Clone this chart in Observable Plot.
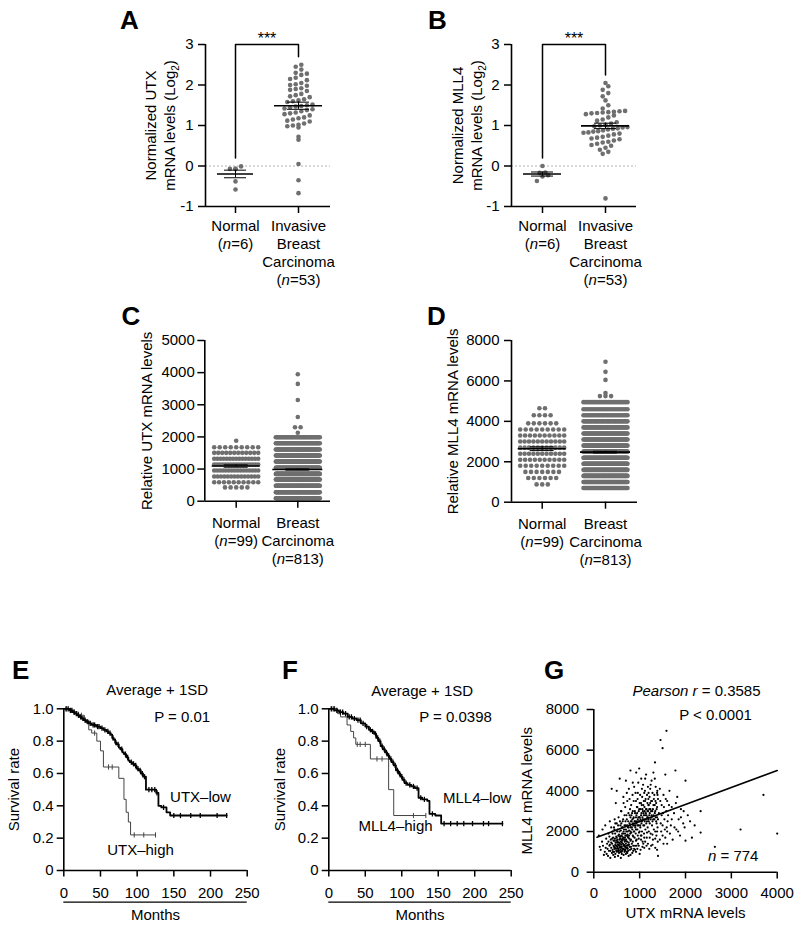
<!DOCTYPE html>
<html><head><meta charset="utf-8">
<script src="https://cdn.jsdelivr.net/npm/d3@7"></script>
<script src="https://cdn.jsdelivr.net/npm/@observablehq/plot@0.6"></script>
<style>
body{margin:0;background:#fff;}
#fig{position:relative;width:800px;height:927px;background:#fff;overflow:hidden;font-family:"Liberation Sans",Arial,Helvetica,sans-serif;}
#fig svg{position:absolute;}
.letter{position:absolute;font-weight:bold;font-size:26px;line-height:1;color:#000;}
</style></head>
<body><div id="fig"></div>
<script>
// ---------------- DATA ----------------
// Panel A: normalized UTX (log2)
const catA = ["Normal\n(n=6)", "Invasive\nBreast\nCarcinoma\n(n=53)"];
const utxNormal = [-0.08, -0.07, -0.06, -0.01, -0.38, -0.58];
const utxInvasive = [2.5, 2.45, 2.38, 2.3, 2.28, 2.25, 2.18, 2.15, 2.12, 2.05, 2.02, 2.0, 1.98, 1.92, 1.9, 1.88, 1.85, 1.78, 1.75, 1.72, 1.7, 1.65, 1.62, 1.6, 1.58, 1.52, 1.5, 1.48, 1.47, 1.45, 1.42, 1.4, 1.38, 1.35, 1.32, 1.3, 1.28, 1.25, 1.2, 1.18, 1.15, 1.12, 1.1, 1.05, 1.02, 1.0, 0.98, 0.95, 0.72, 0.65, 0.05, -0.35, -0.67];
const bracketA = [0.2, 3, 2.7];
// Panel B: normalized MLL4 (log2)
const catB = ["Normal\n(n=6)", "Invasive\nBreast\nCarcinoma\n(n=53)"];
const mll4Normal = [0.0, -0.16, -0.17, -0.23, -0.26, -0.37];
const mll4Invasive = [2.05, 1.97, 1.88, 1.8, 1.72, 1.62, 1.5, 1.42, 1.36, 1.35, 1.34, 1.33, 1.32, 1.31, 1.3, 1.28, 1.25, 1.2, 1.15, 1.12, 1.08, 1.05, 1.02, 1.0, 0.98, 0.96, 0.95, 0.93, 0.92, 0.9, 0.88, 0.86, 0.85, 0.83, 0.82, 0.8, 0.78, 0.75, 0.72, 0.7, 0.68, 0.66, 0.63, 0.6, 0.58, 0.55, 0.52, 0.5, 0.45, 0.4, 0.35, 0.3, -0.8];
const bracketB = [0.2, 3, 2.25];
const tickLog = [-1, 0, 1, 2, 3];
// Panel C: relative UTX (value levels and number of samples at each level)
const catC = ["Normal\n(n=99)", "Breast\nCarcinoma\n(n=813)"];
const utxNormLevels = [430, 590, 770, 955, 1140, 1320, 1505, 1680, 1880];
const utxNormCounts = [5, 10, 14, 16, 17, 15, 12, 9, 1];
const utxCaLevels = [90, 280, 480, 675, 850, 1040, 1235, 1420, 1610, 1805, 1990, 2130, 2300, 2620, 3150, 3650, 3950];
const utxCaCounts = [57, 75, 85, 88, 95, 95, 88, 80, 60, 45, 38, 1, 2, 1, 1, 1, 1];
const tickC = [0, 1000, 2000, 3000, 4000, 5000];
// Panel D: relative MLL4
const catD = ["Normal\n(n=99)", "Breast\nCarcinoma\n(n=813)"];
const mllNormLevels = [880, 1200, 1500, 1800, 2100, 2400, 2700, 3000, 3300, 3600, 3900, 4300, 4650];
const mllNormCounts = [3, 6, 7, 9, 10, 11, 11, 11, 10, 9, 6, 4, 2];
const mllCaLevels = [700, 1000, 1300, 1600, 1900, 2200, 2500, 2800, 3100, 3400, 3700, 4000, 4300, 4600, 4950, 5250, 5400, 6050, 6450, 6950];
const mllCaCounts = [45, 69, 76, 75, 75, 72, 68, 62, 56, 50, 44, 38, 28, 22, 26, 3, 1, 1, 1, 1];
const tickD = [0, 2000, 4000, 6000, 8000];
// Panel E: Kaplan-Meier UTX
const utxLowT = [0, 8, 12, 15, 18, 21, 24, 27, 30, 34, 38, 44, 50, 54, 58, 61, 64, 66, 68, 70, 72, 75, 77, 80, 82, 85, 88, 90, 93, 96, 99, 102, 105, 108, 112, 126, 129, 133, 140, 145, 222];
const utxLowS = [1.0, 0.99, 0.98, 0.97, 0.96, 0.95, 0.94, 0.93, 0.92, 0.91, 0.90, 0.89, 0.88, 0.87, 0.86, 0.85, 0.84, 0.82, 0.81, 0.79, 0.78, 0.76, 0.75, 0.73, 0.72, 0.70, 0.68, 0.67, 0.66, 0.65, 0.63, 0.62, 0.60, 0.58, 0.50, 0.48, 0.40, 0.39, 0.36, 0.34, 0.34];
const utxLowCens = [3, 6, 9, 11, 14, 17, 20, 23, 26, 29, 32, 36, 40, 42, 46, 48, 52, 56, 60, 63, 67, 71, 74, 79, 84, 87, 92, 95, 98, 101, 104, 107, 110, 116, 120, 124, 127, 136, 150, 159, 173, 186, 209, 222];
const utxHighT = [0, 10, 20, 28, 34, 38, 45, 50, 54, 75, 82, 85, 88, 91, 125];
const utxHighS = [1.0, 0.98, 0.96, 0.93, 0.87, 0.85, 0.80, 0.74, 0.64, 0.57, 0.44, 0.36, 0.30, 0.22, 0.22];
const utxHighCens = [4, 14, 24, 42, 61, 66, 96, 109, 125];
// Panel F: Kaplan-Meier MLL4
const mllLowT = [0, 8, 14, 20, 26, 32, 38, 44, 50, 55, 59, 62, 65, 68, 71, 74, 77, 80, 83, 86, 89, 92, 95, 98, 101, 104, 108, 113, 118, 123, 128, 135, 138, 146, 154, 238];
const mllLowS = [1.0, 0.99, 0.98, 0.97, 0.95, 0.94, 0.93, 0.91, 0.89, 0.87, 0.86, 0.845, 0.82, 0.80, 0.77, 0.75, 0.73, 0.71, 0.69, 0.67, 0.65, 0.62, 0.60, 0.58, 0.56, 0.54, 0.53, 0.52, 0.51, 0.45, 0.44, 0.43, 0.35, 0.34, 0.29, 0.29];
const mllLowCens = [4, 7, 11, 16, 19, 23, 28, 31, 35, 40, 43, 47, 52, 57, 60, 64, 67, 70, 73, 76, 79, 82, 85, 88, 91, 94, 97, 100, 103, 106, 111, 116, 121, 126, 131, 142, 158, 167, 176, 185, 197, 212, 219, 238];
const mllHighT = [0, 12, 16, 25, 30, 34, 37, 57, 82, 89, 133];
const mllHighS = [1.0, 0.97, 0.95, 0.90, 0.86, 0.82, 0.78, 0.69, 0.50, 0.34, 0.34];
const mllHighCens = [3, 8, 39, 43, 50, 66, 73, 116, 133];
const tickSurv = [0, 0.2, 0.4, 0.6, 0.8, 1.0];
const tickMonths = [0, 50, 100, 150, 200, 250];
// Panel G: UTX vs MLL4 scatter [UTX, MLL4]
const scatterPts = [
[110,1800],[130,1250],[150,1100],[180,1500],[190,2100],[200,1300],[220,850],[240,1000],[250,2300],
[260,1200],[270,1650],[280,900],[290,1400],[300,1150],[310,800],[320,1900],[330,1050],[340,1300],[350,2500],[360,700],[370,1600],[380,1200],[390,4100],[395,950],
[400,1400],[405,2000],[410,1100],[420,1700],[425,850],[430,1300],[440,2200],[445,1000],[450,1550],[455,2600],[460,1200],[465,1900],[470,900],[475,1450],[480,3400],[485,1150],[490,1750],[495,1300],[500,2400],[500,4000],
[505,1000],[510,1250],[515,1600],[520,2100],[525,1350],[530,1150],[535,1800],[540,2700],[545,1050],[550,1450],[555,1300],[560,2000],[565,4600],[570,1200],[575,1650],[580,2300],[585,1100],[590,1500],[595,3000],[600,1350],[600,1800],
[605,1000],[610,1250],[615,2200],[620,1550],[625,1150],[630,2500],[635,1400],[640,1900],[645,3700],[650,1300],[655,1700],[660,2100],[665,1100],[670,2800],[675,1500],[680,1250],[685,3200],[690,1800],[695,2300],[700,1400],[700,4500],[700,900],
[705,1600],[710,2000],[715,1200],[720,2600],[725,1500],[730,3500],[735,1850],[740,1300],[745,2200],[750,1700],[755,2900],[760,1450],[765,4100],[770,2050],[775,1650],[780,2400],[785,1250],[790,3100],[795,1900],[800,2700],[800,850],[800,5000],
[805,2200],[810,1600],[815,3300],[820,1950],[825,2500],[830,1400],[835,2900],[840,2100],[845,3800],[850,1800],[855,2400],[860,1300],[865,2650],[870,3500],[875,2000],[880,4200],[885,2300],[890,1700],[895,3000],[900,2500],[900,1100],
[905,2200],[910,3900],[915,1900],[920,2700],[925,4900],[930,2400],[935,1600],[940,3200],[945,2900],[950,2100],[955,3600],[960,2600],[965,1400],[970,4400],[975,2300],[980,3000],[985,1950],[990,5100],[995,2700],[1000,3400],[1000,2000],[1000,900],
[1005,2500],[1010,3800],[1015,2200],[1020,3100],[1025,1800],[1030,2800],[1035,4600],[1040,2400],[1045,3300],[1050,2000],[1055,3700],[1060,2700],[1065,1500],[1070,3000],[1075,4300],[1080,2300],[1085,2900],[1090,3500],[1095,1900],[1100,2600],[1100,3900],[1100,1200],
[1105,3200],[1110,2500],[1115,4000],[1120,2800],[1125,2100],[1130,3600],[1135,2900],[1140,4800],[1145,2400],[1150,3100],[1155,1700],[1160,3800],[1165,2700],[1170,3400],[1175,2200],[1180,4200],[1185,3000],[1190,2600],[1195,3900],[1200,2000],[1200,3300],
[1210,2800],[1215,3700],[1220,2400],[1230,4100],[1235,3100],[1240,1900],[1250,3500],[1255,2700],[1260,4500],[1270,2300],[1275,3000],[1280,3900],[1290,1600],[1295,2600],[1300,3300],[1300,4900],
[1310,2100],[1320,3800],[1330,2900],[1335,5400],[1340,2000],[1345,3500],[1350,4200],[1360,2500],[1365,1800],[1370,3100],[1380,2700],[1385,4000],[1390,2200],[1395,1500],[1400,3600],[1400,800],
[1420,2900],[1440,4100],[1455,6500],[1460,2400],[1480,3300],[1500,6100],[1500,1800],[1520,3800],[1540,2600],[1560,4800],[1580,3000],[1585,6950],[1590,2200],[1600,3500],[1600,1400],
[1620,2800],[1650,4000],[1680,2300],[1700,3200],[1720,1600],[1750,2900],[1780,5000],[1800,2100],[1820,3700],[1850,2600],[1880,1800],[1900,3100],[1950,2400],[1960,3000],[2000,4500],[2000,1550],
[2050,2800],[2140,1700],[2200,2300],[2330,3000],[2330,1950],[2640,1250],[3200,2100],[3700,3800],[4000,1900],
[520,1200],[540,1100],[560,1300],[580,1000],[600,1200],[620,1050],[640,1150],[660,1350],[680,1050],[700,1200],[720,1000],[740,1150],[550,950],[610,900],[670,1000],[730,950],[490,1050],[630,1650],[690,1550],[750,1350],[810,1250],[850,1500],[880,1150],[930,1300],[960,1800],[1030,1600],[1060,1250],[1120,1500],[1180,1400],[1250,1300],[460,750],[530,800],[590,700],[650,850],[760,800],[840,950],[920,1000],[380,1450],[420,1000],[350,1350],
[320,1500],[340,1750],[360,1050],[380,2200],[400,1650],[410,1900],[430,1550],[440,1250],[450,2100],[460,1650],[470,2400],[480,1300],[490,1550],[500,1700],[510,2000],[520,1500],[530,2300],[540,1350],[550,1850],[560,1600],[570,2500],[580,1750],[590,2050],[600,2400],[610,1600],[620,1900],[630,2200],[640,2600],[650,2000],[660,1600],[670,2300],[680,1900],[690,2500],[700,2100],[710,2800],[720,1800],[730,2300],[740,2000],[750,2500],[760,2200],[770,1800],[780,2800],[790,2300],[800,2000],[810,2500],[820,2800],[830,2200],[840,2600],[850,3000],[860,2300],[870,2700],[880,2000],[890,2500],[900,2900],[910,2300],[920,2100],[930,2800],[940,2500],[950,3200],[960,2300],[970,2700],[980,2500],[990,3100],[1000,2700],[1010,2300],[1020,2600],[1030,3400],[1040,2900],[1050,2500],[1060,3100],[1070,2600],[1080,3300],[1090,2800],[1100,2300],[1110,3000],[1120,3500],[1130,2600],[1140,3100],[1150,2800],[1160,2500],[1170,3000],[1180,2700],[1190,3300],[1200,2500],[1210,3100],[1220,2900],[1230,3400],[1240,2600],[1250,3000],[1260,2800],[1270,3500],[1280,2500],[1290,3100],[1300,2800],[1310,3600],[1320,2600],[1330,3300],[1340,3000],[1350,2700],[1360,3400],[1370,2400],[1380,3200],[1390,3800],[1400,2600],
[450,1150],[470,1350],[510,1450],[530,1050],[570,1400],[590,1250],[610,1450],[650,1150],[670,1300],[690,1100],[710,1300],[730,1200],[750,1050],[770,1350],[790,1100],[820,1150],[860,1050],[900,1300],[950,1150],[980,1300],[1020,1100],[1080,1400],[1150,1300],[1210,1150],[1280,1350],[1340,1200],[1380,1100],[560,1750],[620,1750],[680,1700],[740,1750],[800,1550],[860,1750],[920,1550],[980,1650],[1040,1800],[1100,1700],[1160,1950],[1220,1700],[1280,1850],[1340,1650],[1380,2000],
[600,3000],[650,3400],[720,3900],[780,3600],[850,4400],[920,3500],[960,3900],[1050,4100],[1120,4600],[1190,3600],[1240,4300],[1330,4600],[1380,3900],[1450,3500],[1480,2800],[1510,2900],[1530,3200],[1550,2100],[1570,3600],[1610,2500],[1640,3300],[1660,1900],[1700,2600],[1760,2200],[1790,3400],[1840,2000],[1900,2700],[1980,2200],[2100,2500],[1440,1600],[1470,2000],[1500,2300],[1520,1400],[1560,1700],[1600,2000]
];
const fitUTX = [70, 4000];
const fitMLL4 = [1720, 5000];
const tickGX = [0, 1000, 2000, 3000, 4000];
const tickGY = [0, 2000, 4000, 6000, 8000];

// ---------------- HELPERS ----------------
const FONT = '"Liberation Sans", Arial, Helvetica, sans-serif';
const fig = document.getElementById("fig");
const SVGNS = "http://www.w3.org/2000/svg";
const DOT = "#6f6f6f";

function expand(levels, counts) {
  const out = [];
  levels.forEach((v, i) => { for (let k = 0; k < counts[i]; k++) out.push(v); });
  return out;
}
// Prism-like column scatter: points binned into rows, spread (and compressed) horizontally
function swarm(values, pxPerUnit, rowPx, spacing, maxW) {
  const sorted = [...values].sort((a, b) => a - b);
  const rows = d3.groups(sorted, v => Math.round(v * pxPerUnit / rowPx));
  const out = [];
  for (const [, vs] of rows) {
    const n = vs.length;
    const s = n > 1 ? Math.min(spacing, maxW / (n - 1)) : 0;
    vs.forEach((v, i) => out.push({v, off: (i - (n - 1) / 2) * s}));
  }
  return out;
}
function setRuns(el, runs) {
  el.textContent = "";
  runs.forEach(([s, st]) => {
    const t = document.createElementNS(SVGNS, "tspan");
    if (st === "i") t.setAttribute("font-style", "italic");
    if (st === "sub") { t.setAttribute("font-size", "10"); t.setAttribute("dy", "4"); }
    if (st === "up") { t.setAttribute("dy", "-4"); }
    t.textContent = s;
    el.appendChild(t);
  });
}
function post(svg) {
  svg.querySelectorAll("text, tspan").forEach(el => {
    if (el.querySelector("tspan")) return;
    const t = el.textContent;
    let m;
    if ((m = t.match(/^\(n=(\d+)\)$/))) setRuns(el, [["(", ""], ["n", "i"], ["=" + m[1] + ")", ""]]);
    else if ((m = t.match(/^n = (\d+)$/))) setRuns(el, [["n", "i"], [" = " + m[1], ""]]);
    else if ((m = t.match(/^Pearson r (.*)$/))) setRuns(el, [["Pearson r", "i"], [" " + m[1], ""]]);
    else if ((m = t.match(/^(.*)\(Log2\)$/))) setRuns(el, [[m[1] + "(Log", ""], ["2", "sub"], [")", "up"]]);
  });
}
function mount(svg, left, top) {
  svg.style.left = left + "px";
  svg.style.top = top + "px";
  post(svg);
  fig.appendChild(svg);
}
function letter(ch, left, top) {
  const d = document.createElement("div");
  d.className = "letter"; d.textContent = ch;
  d.style.left = left + "px"; d.style.top = top + "px";
  fig.appendChild(d);
}
const baseStyle = {fontFamily: FONT, fontSize: "15px", background: "transparent", overflow: "visible", color: "#000"};
const C = {textAnchor: "middle", lineAnchor: "middle", fontSize: 15};

// Column scatter panel (A-D)
function columnPanel(c) {
  const innerW = c.w - c.ml - c.mr, innerH = c.h - c.mt - c.mb;
  const x0 = -c.firstPx / c.stepPx, x1 = x0 + innerW / c.stepPx;
  const pxY = innerH / (c.ydom[1] - c.ydom[0]);
  const pts = [];
  c.groups.forEach((vals, gi) => swarm(vals, pxY, c.rowPx, c.spacing, c.maxW)
    .forEach(p => pts.push({x: gi + p.off / c.stepPx, y: p.v})));
  const stats = c.groups.map((vals, gi) => {
    const m = d3.mean(vals), se = d3.deviation(vals) / Math.sqrt(vals.length);
    return {gi, m, lo: m - se, hi: m + se, half: c.meanHalf[gi] / c.stepPx, cap: c.capHalf[gi] / c.stepPx};
  });
  const marks = [];
  if (c.ydom[0] < 0) marks.push(Plot.ruleY([0], {stroke: "#b5b5b5", strokeWidth: 1, strokeDasharray: "2,2"}));
  marks.push(
    Plot.dot(pts, {x: "x", y: "y", r: 2.3, fill: DOT, stroke: "none"}),
    Plot.ruleX(stats, {x: "gi", y1: "lo", y2: "hi", stroke: "#000", strokeWidth: 1}),
    Plot.ruleY(stats, {y: "lo", x1: d => d.gi - d.cap, x2: d => d.gi + d.cap, stroke: "#000", strokeWidth: 1}),
    Plot.ruleY(stats, {y: "hi", x1: d => d.gi - d.cap, x2: d => d.gi + d.cap, stroke: "#000", strokeWidth: 1}),
    Plot.ruleY(stats, {y: "m", x1: d => d.gi - d.half, x2: d => d.gi + d.half, stroke: "#000", strokeWidth: 1.6}),
    Plot.ruleX([x0], {stroke: "#000", strokeWidth: 1.6}),
    Plot.ruleY([c.ydom[0]], {stroke: "#000", strokeWidth: 1.6}),
    Plot.axisY({ticks: c.yticks, tickSize: 7, tickPadding: c.yPad, fontSize: 15, label: null, strokeWidth: 1.5, tickFormat: d => String(d)}),
    Plot.axisX({ticks: [0, 1], tickSize: 7, tickPadding: c.xPad, fontSize: 15, lineHeight: 1.2, label: null, strokeWidth: 1.5, tickFormat: i => c.cats[i]}),
    Plot.text([c.ylabel], {...C, frameAnchor: "left", rotate: -90, dx: c.ylabelDx, lineHeight: 1.25})
  );
  if (c.bracket) {
    const b = c.bracket;
    marks.push(
      Plot.line([{x: 0, y: b[0]}, {x: 0, y: b[1]}, {x: 1, y: b[1]}, {x: 1, y: b[2]}], {x: "x", y: "y", stroke: "#000", strokeWidth: 1.5}),
      Plot.text(["***"], {x: [0.5], y: [b[1]], dy: -6, fontSize: 16})
    );
  }
  const svg = Plot.plot({width: c.w, height: c.h, marginLeft: c.ml, marginRight: c.mr, marginTop: c.mt, marginBottom: c.mb,
    x: {domain: [x0, x1]}, y: {domain: c.ydom}, style: baseStyle, marks});
  mount(svg, c.left, c.top);
}

const tickSym = {draw(ctx, size) { const r = Math.sqrt(size / Math.PI); ctx.moveTo(0, -r); ctx.lineTo(0, r); }};
function survAt(T, S, t) { const i = d3.bisectRight(T, t) - 1; return S[Math.max(0, i)]; }

function kmPanel(c) {
  const marks = [];
  c.curves.forEach(cv => {
    const pts = cv.T.map((t, i) => ({t, s: cv.S[i]}));
    const cens = cv.C.map(t => ({t, s: survAt(cv.T, cv.S, t)}));
    marks.push(
      Plot.line(pts, {x: "t", y: "s", curve: "step-after", stroke: cv.stroke, strokeWidth: cv.sw}),
      Plot.dot(cens, {x: "t", y: "s", symbol: tickSym, r: 2.6, stroke: cv.stroke, strokeWidth: cv.tw, fill: "none"})
    );
  });
  marks.push(
    Plot.ruleX([0], {stroke: "#000", strokeWidth: 1.6}),
    Plot.ruleY([0], {stroke: "#000", strokeWidth: 1.6}),
    Plot.axisY({ticks: tickSurv, tickSize: 6.6, tickPadding: 3.5, fontSize: 15, label: null, strokeWidth: 1.5, tickFormat: d => d === 0 ? "0" : d.toFixed(1)}),
    Plot.axisX({ticks: tickMonths, tickSize: 6.6, tickPadding: 10, fontSize: 15, label: null, strokeWidth: 1.5, tickFormat: d => String(d)}),
    Plot.ruleY([0], {dy: 31.7, stroke: "#000", strokeWidth: 1.3}),
    Plot.text(["Months"], {...C, frameAnchor: "bottom", dy: 45}),
    Plot.text(["Survival rate"], {...C, frameAnchor: "left", rotate: -90, dx: c.ylabelDx}),
    ...c.notes.map(n => Plot.text([n[0]], {...C, frameAnchor: "top-left", dx: n[1], dy: n[2]}))
  );
  const svg = Plot.plot({width: c.w, height: c.h, marginLeft: c.ml, marginRight: c.mr, marginTop: c.mt, marginBottom: c.mb,
    x: {domain: [0, 250]}, y: {domain: [0, 1]}, style: baseStyle, marks});
  mount(svg, c.left, c.top);
}

// ---------------- PANELS ----------------
columnPanel({left: 90, top: 0, w: 260, h: 300, ml: 115, mr: 20, mt: 44, mb: 94,
  firstPx: 30, stepPx: 63, ydom: [-1, 3], yticks: tickLog, cats: catA,
  groups: [utxNormal, utxInvasive], rowPx: 6, spacing: 5.6, maxW: 44,
  meanHalf: [18, 24], capHalf: [11, 11], yPad: 5, xPad: 5,
  ylabel: "Normalized UTX\nmRNA levels (Log2)", ylabelDx: -46, bracket: bracketA});
columnPanel({left: 395, top: 0, w: 260, h: 300, ml: 116, mr: 19, mt: 44, mb: 94,
  firstPx: 31, stepPx: 63, ydom: [-1, 3], yticks: tickLog, cats: catB,
  groups: [mll4Normal, mll4Invasive], rowPx: 6, spacing: 5.6, maxW: 44,
  meanHalf: [19, 24], capHalf: [11, 11], yPad: 5, xPad: 5,
  ylabel: "Normalized MLL4\nmRNA levels (Log2)", ylabelDx: -45, bracket: bracketB});
columnPanel({left: 90, top: 300, w: 260, h: 290, ml: 114.3, mr: 20, mt: 40, mb: 89.3,
  firstPx: 31.4, stepPx: 61.6, ydom: [0, 5000], yticks: tickC, cats: catC,
  groups: [expand(utxNormLevels, utxNormCounts), expand(utxCaLevels, utxCaCounts)], rowPx: 3, spacing: 5.6, maxW: 44,
  meanHalf: [24, 25], capHalf: [12, 12], yPad: 3, xPad: 7,
  ylabel: "Relative UTX mRNA levels", ylabelDx: -59.3});
columnPanel({left: 395, top: 300, w: 260, h: 290, ml: 116, mr: 18, mt: 40, mb: 88.3,
  firstPx: 30.7, stepPx: 63.3, ydom: [0, 8000], yticks: tickD, cats: catD,
  groups: [expand(mllNormLevels, mllNormCounts), expand(mllCaLevels, mllCaCounts)], rowPx: 3, spacing: 5.6, maxW: 44,
  meanHalf: [24, 25], capHalf: [12, 12], yPad: 5, xPad: 7,
  ylabel: "Relative MLL4 mRNA levels", ylabelDx: -59.3});

kmPanel({left: 0, top: 600, w: 265, h: 327, ml: 63.3, mr: 18.3, mt: 108.3, mb: 57, ylabelDx: -50,
  curves: [
    {T: utxHighT, S: utxHighS, C: utxHighCens, stroke: "#444", sw: 1, tw: 1},
    {T: utxLowT, S: utxLowS, C: utxLowCens, stroke: "#000", sw: 1.8, tw: 1.3}
  ],
  notes: [["Average + 1SD", 93.4, -18.3], ["P = 0.01", 118.4, 8.4], ["UTX\u2013low", 136.7, 88.4], ["UTX\u2013high", 76.7, 141.7]]});
kmPanel({left: 265, top: 600, w: 265, h: 327, ml: 63.3, mr: 19.3, mt: 108.3, mb: 57, ylabelDx: -48.3,
  curves: [
    {T: mllHighT, S: mllHighS, C: mllHighCens, stroke: "#444", sw: 1, tw: 1},
    {T: mllLowT, S: mllLowS, C: mllLowCens, stroke: "#000", sw: 1.8, tw: 1.3}
  ],
  notes: [["Average + 1SD", 93.4, -17.6], ["P = 0.0398", 126.7, 8.4], ["MLL4\u2013low", 148.4, 89.7], ["MLL4\u2013high", 66.7, 117.7]]});

// Panel G
(function () {
  const pts = scatterPts.map(([x, y]) => ({x, y}));
  const fit = fitUTX.map((x, i) => ({x, y: fitMLL4[i]}));
  const svg = Plot.plot({width: 300, height: 327, marginLeft: 93.3, marginRight: 23.3, marginTop: 109, marginBottom: 55.3,
    x: {domain: [0, 4000]}, y: {domain: [0, 8000]}, style: baseStyle,
    marks: [
      Plot.dot(pts, {x: "x", y: "y", r: 1.1, fill: "#000", stroke: "none"}),
      Plot.line(fit, {x: "x", y: "y", stroke: "#000", strokeWidth: 1.6}),
      Plot.ruleX([0], {stroke: "#000", strokeWidth: 1.6}),
      Plot.ruleY([0], {stroke: "#000", strokeWidth: 1.6}),
      Plot.axisY({ticks: tickGY, tickSize: 6.7, tickPadding: 8, fontSize: 15, label: null, strokeWidth: 1.5, tickFormat: d => String(d)}),
      Plot.axisX({ticks: tickGX, tickSize: 6.7, tickPadding: 8.4, fontSize: 15, label: null, strokeWidth: 1.5, tickFormat: d => String(d)}),
      Plot.text(["MLL4 mRNA levels"], {...C, frameAnchor: "left", rotate: -90, dx: -66.6}),
      Plot.text(["UTX mRNA levels"], {...C, frameAnchor: "bottom", dy: 41.3}),
      Plot.text(["Pearson r = 0.3585"], {...C, frameAnchor: "top-left", dx: 102.7, dy: -18.3}),
      Plot.text(["P < 0.0001"], {...C, frameAnchor: "top-left", dx: 121.7, dy: 6}),
      Plot.text(["n = 774"], {...C, frameAnchor: "top-left", dx: 139.4, dy: 147})
    ]});
  mount(svg, 500, 600);
})();

letter("A", 120, 6.6);
letter("B", 428, 6.6);
letter("C", 121.5, 303.3);
letter("D", 427, 303.3);
letter("E", 12, 656.6);
letter("F", 282, 656.6);
letter("G", 544, 656.6);
</script>
</body></html>
